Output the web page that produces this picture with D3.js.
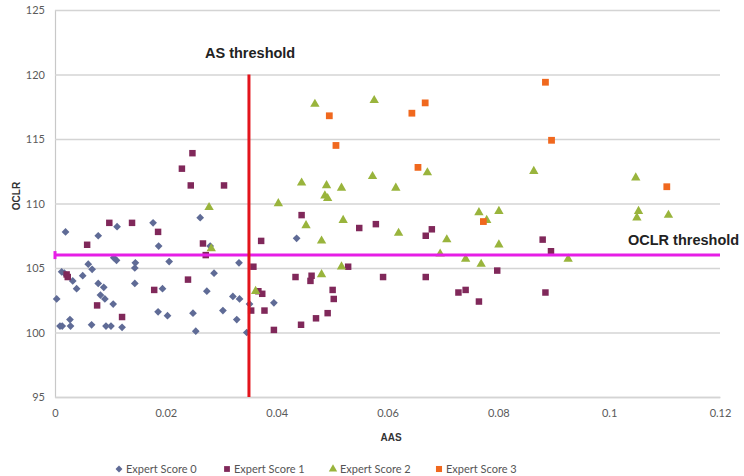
<!DOCTYPE html>
<html>
<head>
<meta charset="utf-8">
<script src="https://cdn.jsdelivr.net/npm/d3@7"></script>
<style>
  html, body { margin: 0; padding: 0; background: #fff; }
  svg { display: block; }
</style>
</head>
<body>
<svg id="chart" width="744" height="476"></svg>
<script>
// AAS vs OCLR, grouped by expert score
const score0 = [
  [0.0019,107.8],[0.0078,107.5],[0.0112,108.2],[0.0177,108.5],[0.0187,106.7],
  [0.0106,105.8],[0.0111,105.6],[0.0206,105.5],[0.0145,105.4],[0.0144,105.0],
  [0.0060,105.3],[0.0067,104.9],[0.0012,104.7],[0.0017,104.6],[0.0050,104.4],
  [0.0032,104.0],[0.0039,103.4],[0.0078,103.8],[0.0088,103.5],[0.0082,102.9],
  [0.0090,102.6],[0.0105,102.2],[0.0144,103.8],[0.0194,103.4],[0.0287,104.6],
  [0.0274,103.2],[0.0332,105.4],[0.0321,102.8],[0.0333,102.6],[0.0003,102.6],
  [0.0262,108.9],[0.0280,106.7],[0.0351,102.2],[0.0303,101.7],[0.0328,101.0],
  [0.0009,100.5],[0.0013,100.5],[0.0027,101.0],[0.0028,100.5],[0.0066,100.6],
  [0.0092,100.5],[0.0101,100.5],[0.0121,100.4],[0.0186,101.6],[0.0203,101.3],
  [0.0249,101.5],[0.0254,100.1],[0.0346,100.0],[0.0436,107.3],[0.0395,102.3]
];
const score1 = [
  [0.0248,113.9],[0.0229,112.7],[0.0245,111.4],[0.0305,111.4],[0.0098,108.5],
  [0.0139,108.5],[0.0186,107.8],[0.0058,106.8],[0.0267,106.9],[0.0272,106.0],
  [0.0021,104.5],[0.0023,104.3],[0.0240,104.1],[0.0179,103.3],[0.0076,102.1],
  [0.0121,101.2],[0.0445,109.1],[0.0372,107.1],[0.0549,108.1],[0.0579,108.4],
  [0.0669,107.5],[0.0680,108.0],[0.0358,105.1],[0.0529,105.1],[0.0434,104.3],
  [0.0463,104.4],[0.0461,104.0],[0.0592,104.3],[0.0669,104.3],[0.0798,104.8],
  [0.0367,103.2],[0.0374,103.0],[0.0501,103.3],[0.0503,102.6],[0.0728,103.1],
  [0.0741,103.3],[0.0765,102.4],[0.0354,101.7],[0.0378,101.7],[0.0471,101.1],
  [0.0492,101.5],[0.0444,100.6],[0.0395,100.2],[0.0880,107.2],[0.0895,106.3],
  [0.0885,103.1]
];
const score2 = [
  [0.0278,109.7],[0.0282,106.5],[0.0469,117.7],[0.0576,118.0],[0.0445,111.6],
  [0.0490,111.4],[0.0517,111.2],[0.0573,112.1],[0.0615,111.2],[0.0672,112.4],
  [0.0487,110.6],[0.0492,110.4],[0.0403,110.0],[0.0453,108.3],[0.0520,108.7],
  [0.0481,107.1],[0.0620,107.7],[0.0707,107.2],[0.0695,106.1],[0.0765,109.3],
  [0.0801,109.4],[0.0801,106.8],[0.0741,105.7],[0.0769,105.3],[0.0517,105.1],
  [0.0481,104.5],[0.0362,103.2],[0.0864,112.5],[0.1048,112.0],[0.1053,109.4],
  [0.1050,108.9],[0.1107,109.1],[0.0926,105.7],[0.0779,108.7]
];
const score3 = [
  [0.0495,116.8],[0.0507,114.5],[0.0644,117.0],[0.0668,117.8],[0.0655,112.8],
  [0.0773,108.6],[0.0885,119.4],[0.0896,114.9],[0.1104,111.3]
];

const seriesNames = ["Expert Score 0", "Expert Score 1", "Expert Score 2", "Expert Score 3"];
const seriesColors = ["#5f6b96", "#80285a", "#99b43c", "#f0681e"];
const xTicks = [0, 0.02, 0.04, 0.06, 0.08, 0.1, 0.12];
const yTicks = [95, 100, 105, 110, 115, 120, 125];
const asThreshold = 0.035;
const asThresholdTop = 120;
const oclrThreshold = 106;

const svg = d3.select("#chart");
const x = d3.scaleLinear().domain([0, 0.12]).range([55, 720]);
const y = d3.scaleLinear().domain([95, 125]).range([397, 10]);

// gridlines and y tick labels
svg.append("g")
  .attr("transform", `translate(${x(0)},0)`)
  .call(d3.axisLeft(y).tickValues(yTicks).tickSize(-(x(0.12) - x(0))).tickFormat(d => d).tickPadding(10))
  .call(g => g.select(".domain").attr("stroke", "#c8c8c8").attr("stroke-width", 1.2))
  .call(g => g.selectAll(".tick line").attr("stroke", "#d4d4d4").attr("stroke-width", 1.5))
  .call(g => g.selectAll(".tick text").attr("fill", "#5a5a5a")
    .style("font-family", "Lato, 'Open Sans', sans-serif").style("font-size", "11px"));

svg.append("g")
  .attr("transform", `translate(0,${y(95)})`)
  .call(d3.axisBottom(x).tickValues(xTicks).tickSize(0).tickFormat(d => d).tickPadding(12))
  .call(g => g.select(".domain").attr("stroke", "#d4d4d4").attr("stroke-width", 1.5))
  .call(g => g.selectAll(".tick text").attr("fill", "#5a5a5a")
    .style("font-family", "Lato, 'Open Sans', sans-serif").style("font-size", "11px"));

// axis titles
svg.append("text")
  .attr("transform", "translate(20,196) rotate(-90)")
  .attr("text-anchor", "middle")
  .style("font-family", "'Liberation Sans', Arial, sans-serif")
  .style("font-size", "10px").style("font-weight", "bold").attr("fill", "#333")
  .text("OCLR");
svg.append("text")
  .attr("x", 391).attr("y", 441)
  .attr("text-anchor", "middle")
  .style("font-family", "'Liberation Sans', Arial, sans-serif")
  .style("font-size", "10px").style("font-weight", "bold").attr("fill", "#333")
  .text("AAS");

// markers
const symbolTypes = [d3.symbolSquare, d3.symbolSquare, d3.symbolTriangle, d3.symbolSquare];
const symbolSizes = [30, 42, 38, 46];
const symbolRotate = [45, 0, 0, 0];
const allSeries = [score0, score1, score2, score3];

allSeries.forEach((data, i) => {
  const path = d3.symbol().type(symbolTypes[i]).size(symbolSizes[i])();
  svg.append("g").selectAll("path")
    .data(data)
    .join("path")
    .attr("d", path)
    .attr("transform", d => `translate(${x(d[0])},${y(d[1])}) rotate(${symbolRotate[i]})`)
    .attr("fill", seriesColors[i]);
});

// OCLR threshold line
svg.append("line")
  .attr("x1", x(0)).attr("x2", x(0.12))
  .attr("y1", y(oclrThreshold)).attr("y2", y(oclrThreshold))
  .attr("stroke", "#e61ee6").attr("stroke-width", 3);
svg.append("rect")
  .attr("x", x(0) - 1.5).attr("y", y(oclrThreshold) - 4)
  .attr("width", 3).attr("height", 8)
  .attr("fill", "#e61ee6");

// AS threshold line
svg.append("line")
  .attr("x1", x(asThreshold)).attr("x2", x(asThreshold))
  .attr("y1", y(95)).attr("y2", y(asThresholdTop))
  .attr("stroke", "#e3141c").attr("stroke-width", 3);

// threshold labels
svg.append("text")
  .attr("x", 205).attr("y", 58)
  .style("font-family", "'Liberation Sans', Arial, sans-serif")
  .style("font-size", "14.5px").style("font-weight", "bold").attr("fill", "#222")
  .text("AS threshold");
svg.append("text")
  .attr("x", 628).attr("y", 245)
  .style("font-family", "'Liberation Sans', Arial, sans-serif")
  .style("font-size", "14.5px").style("font-weight", "bold").attr("fill", "#222")
  .text("OCLR threshold");

// legend
const legendX = [119, 227, 333, 439];
const legend = svg.append("g");
seriesNames.forEach((name, i) => {
  const path = d3.symbol().type(symbolTypes[i]).size(symbolSizes[i] * 0.8)();
  legend.append("path")
    .attr("d", path)
    .attr("transform", `translate(${legendX[i]},469) rotate(${symbolRotate[i]})`)
    .attr("fill", seriesColors[i]);
  legend.append("text")
    .attr("x", legendX[i] + 7).attr("y", 473)
    .style("font-family", "Lato, 'Open Sans', sans-serif")
    .style("font-size", "11px").attr("fill", "#555")
    .text(name);
});
</script>
</body>
</html>
